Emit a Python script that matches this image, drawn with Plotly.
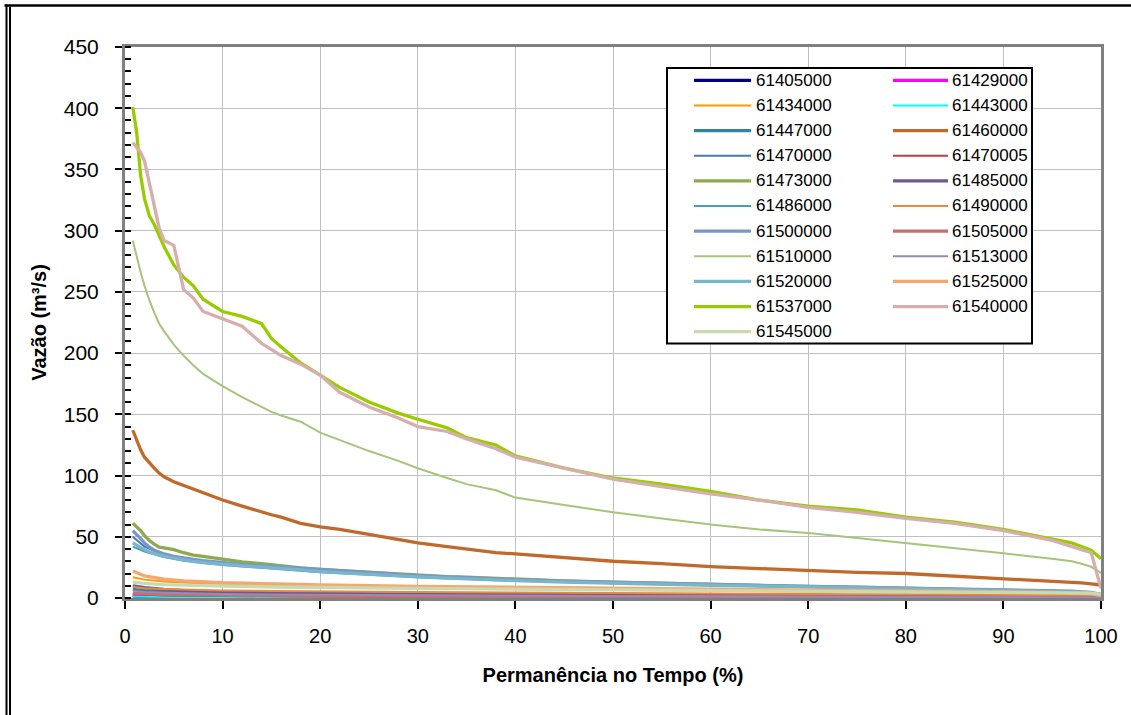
import plotly.graph_objects as go

# ---------------- data ----------------
PERM_FINE = [0.8, 1.2, 1.6, 2, 2.5, 3, 3.5, 4, 5, 6, 7, 8, 10, 12, 14, 15, 16, 18, 20,
             22, 25, 28, 30, 33, 35, 38, 40, 45, 50, 55, 60, 65, 70, 75, 80, 85, 90, 95,
             97, 98, 99, 100]
PERM_COARSE = [0.8, 2, 4, 6, 10, 15, 20, 30, 40, 50, 60, 70, 80, 90, 95, 99, 100]

q_61537000 = [401, 380, 345, 326, 312, 305, 296, 287, 272, 262, 255, 244, 234, 230, 224, 212, 205, 192, 182,
              172, 160, 151, 146, 139, 131, 125, 116, 106, 98, 93, 87, 80, 75, 72, 66, 62, 56, 48, 45, 42, 39, 32]
q_61540000 = [372, 368, 364, 357, 338, 318, 302, 292, 288, 252, 245, 234, 228, 222, 208, 203, 198, 191, 182,
              168, 156, 147, 140, 136, 130, 122, 115, 106, 97, 91, 85, 80, 74, 70, 65, 61, 55, 47, 42, 40, 37, 8]
q_61510000 = [292, 278, 266, 255, 243, 233, 224, 218, 207, 198, 190, 183, 173, 164, 156, 152, 149, 144, 135,
              129, 120, 112, 106, 98, 93, 88, 82, 76, 70, 65, 60, 56, 53, 49, 45, 41, 36.5, 32, 30, 28, 25.5, 20.5]
q_61460000 = [137, 129, 121, 115, 110, 106, 102, 99, 95, 92, 89, 86, 80, 75, 70, 68, 66, 61, 58,
              56, 52, 48, 45, 42, 40, 37, 36, 33, 30, 28, 25.6, 24, 22.3, 21, 20, 18, 16, 14, 12.8, 12.3, 11.5, 10.6]
q_61473000 = [61, 58, 55, 51, 47, 44, 41.5, 41, 39.5, 37, 35, 34, 31.5, 29.5, 28, 27, 26, 24.5, 23.4,
              22.5, 21, 19.5, 18.5, 17.5, 17, 16, 15.5, 14, 13, 12, 11, 10.2, 9.5, 8.8, 8, 7.3, 6.5, 5.5, 5, 4.5, 4, 2]
q_61500000 = [55, 52, 48.5, 45, 41.5, 39, 37.5, 36, 34, 32.5, 31.5, 30.5, 28.8, 27.5, 26.5, 26, 25.3, 24, 23,
              22, 20.5, 19, 18.3, 17.3, 16.5, 15.5, 15, 13.7, 12.7, 11.8, 11, 10.2, 9.5, 8.8, 8.1, 7.4, 6.8, 6, 5.5, 5, 4.5, 3]
q_61520000 = [45, 43, 41, 39.5, 37.5, 36, 35, 34, 32.5, 31, 30, 29, 27.5, 26.3, 25.3, 24.8, 24.2, 23, 21.5,
              20.6, 19.3, 18, 17.3, 16.3, 15.6, 14.8, 14.2, 13, 12, 11.2, 10.4, 9.7, 9, 8.4, 7.8, 7.2, 6.5, 5.8, 5.2, 4.8, 4.2, 3]

q_61405000 = [1.5, 1.2, 1.0, 0.9, 0.7, 0.6, 0.55, 0.5, 0.4, 0.35, 0.3, 0.25, 0.2, 0.2, 0.15, 0.1, 0.05]
q_61429000 = [2.0, 1.6, 1.3, 1.1, 0.9, 0.8, 0.7, 0.6, 0.5, 0.45, 0.4, 0.35, 0.3, 0.25, 0.2, 0.15, 0.1]
q_61434000 = [17, 15, 13.5, 12.5, 11, 10, 9.3, 8.2, 7.3, 6.5, 5.8, 5.2, 4.6, 3.9, 3.4, 2.5, 1.5]
q_61443000 = [1.2, 1.0, 0.8, 0.7, 0.6, 0.5, 0.45, 0.4, 0.35, 0.3, 0.25, 0.2, 0.2, 0.15, 0.1, 0.1, 0.05]
q_61447000 = [7, 6, 5.2, 4.6, 4, 3.5, 3.1, 2.6, 2.2, 1.9, 1.7, 1.5, 1.3, 1.1, 1.0, 0.8, 0.5]
q_61470000 = [50, 42, 35, 31.5, 28, 25.5, 22.5, 17.8, 14.8, 12.7, 11, 9.5, 8.1, 6.8, 6, 4.5, 3]
q_61470005 = [3, 2.5, 2.1, 1.9, 1.6, 1.4, 1.2, 1.0, 0.9, 0.8, 0.7, 0.6, 0.55, 0.5, 0.4, 0.3, 0.2]
q_61485000 = [10, 8.5, 7, 6, 5, 4.3, 3.8, 3.2, 2.8, 2.5, 2.2, 2, 1.8, 1.5, 1.3, 1, 0.5]
q_61486000 = [42, 38, 33.5, 30.5, 27, 24.3, 21, 17, 14, 12, 10.3, 9, 7.7, 6.4, 5.7, 4.2, 2.8]
q_61490000 = [9, 8, 7.3, 6.8, 6.2, 5.7, 5.3, 4.8, 4.4, 4.1, 3.8, 3.5, 3.2, 2.9, 2.6, 2.2, 1.5]
q_61505000 = [4, 3.3, 2.8, 2.5, 2.1, 1.8, 1.6, 1.4, 1.2, 1.1, 1.0, 0.9, 0.8, 0.7, 0.6, 0.5, 0.3]
q_61513000 = [6, 5, 4.3, 3.8, 3.2, 2.8, 2.5, 2.1, 1.8, 1.6, 1.4, 1.2, 1.1, 0.9, 0.8, 0.6, 0.3]
q_61525000 = [22, 18, 15.5, 14, 12.5, 11.3, 10.6, 9.5, 8.6, 7.8, 7.1, 6.5, 5.9, 5.2, 4.6, 3.5, 2]
q_61545000 = [13, 12, 11, 10.5, 9.8, 9, 8.5, 7.8, 7.2, 6.7, 6.2, 5.8, 5.4, 5, 4.6, 4, 3]

STATIONS = ["61405000", "61429000", "61434000", "61443000", "61447000", "61460000",
            "61470000", "61470005", "61473000", "61485000", "61486000", "61490000",
            "61500000", "61505000", "61510000", "61513000", "61520000", "61525000",
            "61537000", "61540000", "61545000"]
SERIES_X = [PERM_COARSE, PERM_COARSE, PERM_COARSE, PERM_COARSE, PERM_COARSE, PERM_FINE,
            PERM_COARSE, PERM_COARSE, PERM_FINE, PERM_COARSE, PERM_COARSE, PERM_COARSE,
            PERM_FINE, PERM_COARSE, PERM_FINE, PERM_COARSE, PERM_FINE, PERM_COARSE,
            PERM_FINE, PERM_FINE, PERM_COARSE]
SERIES_Y = [q_61405000, q_61429000, q_61434000, q_61443000, q_61447000, q_61460000,
            q_61470000, q_61470005, q_61473000, q_61485000, q_61486000, q_61490000,
            q_61500000, q_61505000, q_61510000, q_61513000, q_61520000, q_61525000,
            q_61537000, q_61540000, q_61545000]

X_TICKS = [0, 10, 20, 30, 40, 50, 60, 70, 80, 90, 100]
Y_TICKS = [0, 50, 100, 150, 200, 250, 300, 350, 400, 450]

# ---------------- styles ----------------
COLORS = ["#000080", "#FF00FF", "#FF9900", "#00FFFF", "#31849B", "#C0692A",
          "#4A78B4", "#B5403D", "#8EAA4C", "#6E5890", "#44A0B8", "#E8893E",
          "#7896C8", "#C4706E", "#A6C47A", "#998AB8", "#78B6CC", "#F7A66E",
          "#99CC00", "#D6AEAC", "#C9DAB2"]
WIDTHS = [3.3, 3.3, 2, 2, 3.3, 3.3,
          2, 2, 3.3, 3.3, 2, 2,
          3.3, 3.3, 2, 2, 3.3, 3.3,
          3.3, 3.3, 3.3]

FONT = "Liberation Sans, Arial, sans-serif"
W, H = 1131, 715
ML, MR, MT, MB = 125, 30, 47, 117
PW, PH = W - ML - MR, H - MT - MB


def px_x(px):
    return (px - ML) / PW


def px_y(py):
    return (H - MB - py) / PH


fig = go.Figure()
for name, xs, ys, c, w in zip(STATIONS, SERIES_X, SERIES_Y, COLORS, WIDTHS):
    fig.add_trace(go.Scatter(x=xs, y=ys, mode="lines", name=name,
                             line=dict(color=c, width=w), showlegend=False))

shapes = []
annotations = []

# outer frame (left double line + top line)
shapes.append(dict(type="line", xref="paper", yref="paper",
                   x0=px_x(4.5), x1=px_x(1131), y0=px_y(5.5), y1=px_y(5.5),
                   line=dict(color="black", width=2.3)))
shapes.append(dict(type="line", xref="paper", yref="paper",
                   x0=px_x(6.5), x1=px_x(6.5), y0=px_y(4.5), y1=px_y(716),
                   line=dict(color="black", width=2)))
shapes.append(dict(type="line", xref="paper", yref="paper",
                   x0=px_x(10), x1=px_x(10), y0=px_y(6.5), y1=px_y(716),
                   line=dict(color="black", width=2)))

# legend box
shapes.append(dict(type="rect", xref="paper", yref="paper", layer="above",
                   x0=px_x(667), x1=px_x(1032), y0=px_y(68), y1=px_y(343.5),
                   fillcolor="white", line=dict(color="black", width=2)))
for i, (name, c, w) in enumerate(zip(STATIONS, COLORS, WIDTHS)):
    row, col = divmod(i, 2)
    yc = 80.3 + row * 25.14
    lx0, lx1, tx = (694, 751, 754) if col == 0 else (893, 948, 950)
    shapes.append(dict(type="line", xref="paper", yref="paper", layer="above",
                       x0=px_x(lx0), x1=px_x(lx1), y0=px_y(yc), y1=px_y(yc),
                       line=dict(color=c, width=w)))
    annotations.append(dict(xref="paper", yref="paper", x=px_x(tx), y=px_y(yc),
                            xanchor="left", yanchor="middle", showarrow=False,
                            text=name, font=dict(family=FONT, size=17, color="black")))

fig.update_layout(
    width=W, height=H,
    margin=dict(l=ML, r=MR, t=MT, b=MB, pad=0),
    paper_bgcolor="white", plot_bgcolor="white",
    font=dict(family=FONT, color="black"),
    shapes=shapes, annotations=annotations,
    showlegend=False,
    xaxis=dict(range=[0, 100], tickvals=X_TICKS, ticktext=[str(v) for v in X_TICKS],
               showgrid=True, gridcolor="#C0C0C0", gridwidth=1.3,
               zeroline=False, showline=True, linecolor="#808080", linewidth=2.5, mirror=True,
               ticks="outside", ticklen=8, tickwidth=2, tickcolor="black",
               ticklabelstandoff=10,
               tickfont=dict(family=FONT, size=20, color="black"),
               title=dict(text="<b>Permanência no Tempo (%)</b>", standoff=23,
                          font=dict(family=FONT, size=20, color="black"))),
    yaxis=dict(range=[0, 450], tickvals=Y_TICKS, ticktext=[str(v) for v in Y_TICKS],
               showgrid=True, gridcolor="#C0C0C0", gridwidth=1.3,
               zeroline=False, showline=True, linecolor="#808080", linewidth=3, mirror=True,
               ticks="outside", ticklen=7, tickwidth=2, tickcolor="black",
               ticklabelstandoff=12,
               minor=dict(dtick=10, ticks="inside", ticklen=6, tickwidth=1.5,
                          tickcolor="black", showgrid=False),
               tickfont=dict(family=FONT, size=21, color="black"),
               title=dict(text="<b>Vazão (m³/s)</b>", standoff=12,
                          font=dict(family=FONT, size=20, color="black"))),
)

fig.write_html("out.html")
